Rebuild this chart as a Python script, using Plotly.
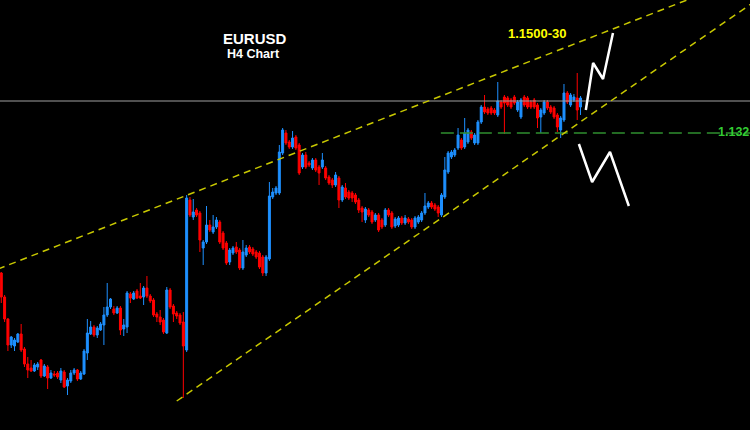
import plotly.graph_objects as go

# EURUSD H4 candles (index, open, high, low, close)
open_ = [1.1040,1.0992,1.0948,1.0896,1.0894,1.0902,1.0918,1.0888,1.0858,1.0850,
         1.0844,1.0852,1.0866,1.0834,1.0852,1.0830,1.0838,1.0840,1.0826,1.0842,
         1.0814,1.0824,1.0840,1.0846,1.0828,1.0838,1.0880,1.0918,1.0932,1.0916,
         1.0926,1.0936,1.0956,1.0972,1.0968,1.0960,1.0970,1.0928,1.0932,1.0998,
         1.0988,1.1004,1.0994,1.0992,1.1010,1.0994,1.0986,1.0958,1.0952,1.0946,
         1.0920,1.1006,1.0974,1.0960,1.0956,1.0942,1.0886,1.1186,1.1152,1.1166,
         1.1160,1.1090,1.1102,1.1136,1.1122,1.1132,1.1142,1.1120,1.1100,1.1062,
         1.1080,1.1092,1.1086,1.1050,1.1076,1.1092,1.1088,1.1082,1.1080,1.1072,
         1.1040,1.1068,1.1192,1.1200,1.1200,1.1280,1.1320,1.1302,1.1292,1.1312,
         1.1296,1.1252,1.1276,1.1260,1.1250,1.1266,1.1252,1.1252,1.1250,1.1232,
         1.1226,1.1216,1.1230,1.1186,1.1210,1.1202,1.1200,1.1196,1.1186,1.1170,
         1.1146,1.1166,1.1162,1.1146,1.1156,1.1146,1.1136,1.1166,1.1160,1.1134,
         1.1136,1.1150,1.1140,1.1148,1.1146,1.1132,1.1142,1.1146,1.1160,1.1172,
         1.1180,1.1176,1.1172,1.1156,1.1192,1.1242,1.1272,1.1276,1.1290,1.1306,
         1.1292,1.1302,1.1322,1.1300,1.1300,1.1342,1.1372,1.1368,1.1370,1.1366,
         1.1356,1.1382,1.1392,1.1390,1.1386,1.1392,1.1366,1.1352,1.1392,1.1390,
         1.1382,1.1386,1.1376,1.1352,1.1360,1.1382,1.1372,1.1370,1.1356,1.1326,
         1.1346,1.1400,1.1376,1.1386,1.1390,1.1372]
high = [1.1042,1.0996,1.0950,1.0914,1.0910,1.0920,1.0938,1.0892,1.0872,1.0866,
        1.0860,1.0862,1.0868,1.0858,1.0856,1.0846,1.0844,1.0844,1.0850,1.0846,
        1.0830,1.0846,1.0850,1.0848,1.0844,1.0888,1.0948,1.0944,1.0936,1.0934,
        1.0942,1.0972,1.1020,1.0990,1.0974,1.0974,1.0974,1.0948,1.1004,1.1002,
        1.1004,1.1008,1.1020,1.1014,1.1034,1.0998,1.0990,1.0962,1.0966,1.0950,
        1.1012,1.1010,1.0978,1.0964,1.0960,1.0962,1.1196,1.1192,1.1188,1.1170,
        1.1164,1.1106,1.1174,1.1146,1.1156,1.1152,1.1146,1.1124,1.1104,1.1090,
        1.1094,1.1102,1.1090,1.1106,1.1096,1.1096,1.1092,1.1086,1.1084,1.1076,
        1.1076,1.1222,1.1210,1.1214,1.1296,1.1330,1.1326,1.1306,1.1324,1.1316,
        1.1300,1.1280,1.1282,1.1264,1.1270,1.1270,1.1256,1.1280,1.1254,1.1236,
        1.1230,1.1242,1.1234,1.1216,1.1220,1.1206,1.1204,1.1200,1.1190,1.1174,
        1.1172,1.1170,1.1166,1.1160,1.1160,1.1150,1.1170,1.1170,1.1164,1.1152,
        1.1154,1.1154,1.1156,1.1152,1.1150,1.1154,1.1156,1.1164,1.1200,1.1184,
        1.1184,1.1180,1.1176,1.1200,1.1272,1.1284,1.1286,1.1290,1.1330,1.1310,
        1.1350,1.1330,1.1326,1.1320,1.1346,1.1376,1.1396,1.1372,1.1374,1.1370,
        1.1422,1.1386,1.1396,1.1394,1.1390,1.1396,1.1386,1.1390,1.1396,1.1394,
        1.1386,1.1390,1.1380,1.1370,1.1386,1.1386,1.1376,1.1374,1.1360,1.1354,
        1.1418,1.1404,1.1400,1.1398,1.1440,1.1394]
low = [1.0980,1.0942,1.0884,1.0890,1.0884,1.0900,1.0882,1.0852,1.0830,1.0842,
       1.0842,1.0846,1.0830,1.0832,1.0808,1.0828,1.0832,1.0828,1.0820,1.0810,
       1.0796,1.0820,1.0836,1.0824,1.0826,1.0836,1.0866,1.0916,1.0912,1.0910,
       1.0924,1.0896,1.0952,1.0968,1.0956,1.0958,1.0916,1.0914,1.0920,1.0980,
       1.0986,1.0988,1.0988,1.0976,1.0990,1.0980,1.0952,1.0942,1.0936,1.0918,
       1.0918,1.0968,1.0942,1.0948,1.0936,1.0790,1.0882,1.1152,1.1146,1.1152,
       1.1082,1.1056,1.1098,1.1122,1.1118,1.1128,1.1098,1.1086,1.1056,1.1056,
       1.1076,1.1078,1.1046,1.1046,1.1072,1.1078,1.1074,1.1068,1.1048,1.1034,
       1.1034,1.1064,1.1188,1.1196,1.1196,1.1276,1.1296,1.1288,1.1288,1.1286,
       1.1236,1.1248,1.1248,1.1252,1.1246,1.1242,1.1216,1.1248,1.1226,1.1216,
       1.1210,1.1212,1.1170,1.1182,1.1188,1.1186,1.1182,1.1178,1.1160,1.1142,
       1.1140,1.1152,1.1138,1.1142,1.1122,1.1128,1.1132,1.1152,1.1128,1.1130,
       1.1132,1.1136,1.1136,1.1138,1.1128,1.1128,1.1138,1.1142,1.1156,1.1168,
       1.1168,1.1164,1.1152,1.1152,1.1188,1.1238,1.1268,1.1272,1.1286,1.1286,
       1.1288,1.1298,1.1306,1.1296,1.1296,1.1338,1.1358,1.1356,1.1356,1.1356,
       1.1352,1.1368,1.1318,1.1372,1.1368,1.1376,1.1362,1.1348,1.1372,1.1368,
       1.1368,1.1368,1.1330,1.1320,1.1356,1.1366,1.1358,1.1348,1.1322,1.1310,
       1.1342,1.1378,1.1372,1.1382,1.1346,1.1356]
close = [1.0992,1.0948,1.0896,1.0912,1.0906,1.0918,1.0886,1.0858,1.0846,1.0844,
         1.0856,1.0858,1.0834,1.0854,1.0830,1.0840,1.0836,1.0832,1.0844,1.0812,
         1.0826,1.0840,1.0846,1.0828,1.0840,1.0884,1.0920,1.0932,1.0916,1.0930,
         1.0938,1.0956,1.0972,1.0988,1.0960,1.0970,1.0926,1.0936,1.1000,1.0990,
         1.1000,1.0990,1.0990,1.1010,1.0994,1.0984,1.0956,1.0952,1.0942,1.0922,
         1.1006,1.0972,1.0958,1.0954,1.0940,1.0894,1.1190,1.1156,1.1162,1.1156,
         1.1106,1.1102,1.1136,1.1126,1.1132,1.1146,1.1102,1.1090,1.1060,1.1086,
         1.1090,1.1082,1.1050,1.1082,1.1090,1.1082,1.1078,1.1072,1.1052,1.1040,
         1.1072,1.1194,1.1202,1.1210,1.1282,1.1326,1.1300,1.1292,1.1310,1.1290,
         1.1240,1.1276,1.1252,1.1256,1.1266,1.1246,1.1240,1.1266,1.1230,1.1220,
         1.1216,1.1236,1.1186,1.1212,1.1192,1.1190,1.1190,1.1182,1.1166,1.1162,
         1.1168,1.1156,1.1142,1.1156,1.1126,1.1132,1.1166,1.1156,1.1132,1.1148,
         1.1150,1.1140,1.1150,1.1142,1.1132,1.1150,1.1152,1.1160,1.1174,1.1180,
         1.1172,1.1168,1.1160,1.1196,1.1246,1.1280,1.1282,1.1286,1.1316,1.1290,
         1.1320,1.1326,1.1310,1.1316,1.1342,1.1372,1.1362,1.1360,1.1360,1.1360,
         1.1384,1.1372,1.1380,1.1376,1.1372,1.1380,1.1382,1.1386,1.1376,1.1372,
         1.1372,1.1372,1.1350,1.1366,1.1382,1.1370,1.1362,1.1352,1.1332,1.1350,
         1.1400,1.1382,1.1396,1.1392,1.1366,1.1390]
bars = list(range(len(close)))

# trend lines: (bar index, price)
upper_x = [-1, 230]
upper_y = [1.1048, 1.1645]
lower_x = [53, 230]
lower_y = [1.0784, 1.1594]
support_level = 1.1320
support_start = 132.8
pivot_level = 1.1384

# projected paths (bar index, price)
up_path_x = [176.6, 178.8, 181.8, 184.8]
up_path_y = [1.1366, 1.1460, 1.1428, 1.1520]
down_path_x = [174.5, 178.5, 183.9, 189.6]
down_path_y = [1.1298, 1.1222, 1.1282, 1.1174]

x_range = [-0.39, 226.2]
y_range = [1.0726, 1.1586]

fig = go.Figure()

fig.add_trace(go.Scatter(x=x_range, y=[pivot_level, pivot_level], mode="lines",
                         line=dict(color="#a0a0a0", width=1), hoverinfo="skip"))
fig.add_trace(go.Scatter(x=[support_start, x_range[1]], y=[support_level, support_level],
                         mode="lines", line=dict(color="#2f8f2f", width=1.5, dash="13px,6px"),
                         hoverinfo="skip"))

fig.add_trace(go.Candlestick(
    x=bars, open=open_, high=high, low=low, close=close,
    increasing=dict(line=dict(color="#1E90FF", width=1), fillcolor="#1E90FF"),
    decreasing=dict(line=dict(color="#FF0000", width=1), fillcolor="#FF0000"),
    whiskerwidth=0,
))

for xs, ys in [(upper_x, upper_y), (lower_x, lower_y)]:
    fig.add_trace(go.Scatter(x=xs, y=ys, mode="lines",
                             line=dict(color="#c8c800", width=1.5, dash="7px,5px"),
                             hoverinfo="skip"))

for xs, ys in [(up_path_x, up_path_y), (down_path_x, down_path_y)]:
    fig.add_trace(go.Scatter(x=xs, y=ys, mode="lines",
                             line=dict(color="#ffffff", width=2.5), hoverinfo="skip"))

fig.add_annotation(x=255/750, y=1-28/430, xref="paper", yref="paper", text="<b>EURUSD</b>",
                   showarrow=False, font=dict(family="Arial", size=15, color="#ffffff"))
fig.add_annotation(x=253/750, y=1-45/430, xref="paper", yref="paper", text="<b>H4 Chart</b>",
                   showarrow=False, font=dict(family="Arial", size=12.5, color="#ffffff"))
fig.add_annotation(x=569/750, y=1-24/430, xref="paper", yref="paper", text="<b>1.1500-30</b>",
                   showarrow=False, font=dict(family="Arial", size=13, color="#ffff00"))
fig.add_annotation(x=716/750, y=1-123/430, xref="paper", yref="paper", text="<b>1.132</b>",
                   xanchor="left", showarrow=False,
                   font=dict(family="Arial", size=12.5, color="#33cc33"))

fig.update_layout(
    width=750, height=430,
    margin=dict(l=0, r=0, t=0, b=0),
    paper_bgcolor="#000000", plot_bgcolor="#000000",
    showlegend=False, boxgap=0.15,
    xaxis=dict(range=x_range, visible=False, rangeslider=dict(visible=False)),
    yaxis=dict(range=y_range, visible=False),
)

fig.write_html("out.html", config={"displayModeBar": False},
               post_script="document.body.style.margin='0';")
